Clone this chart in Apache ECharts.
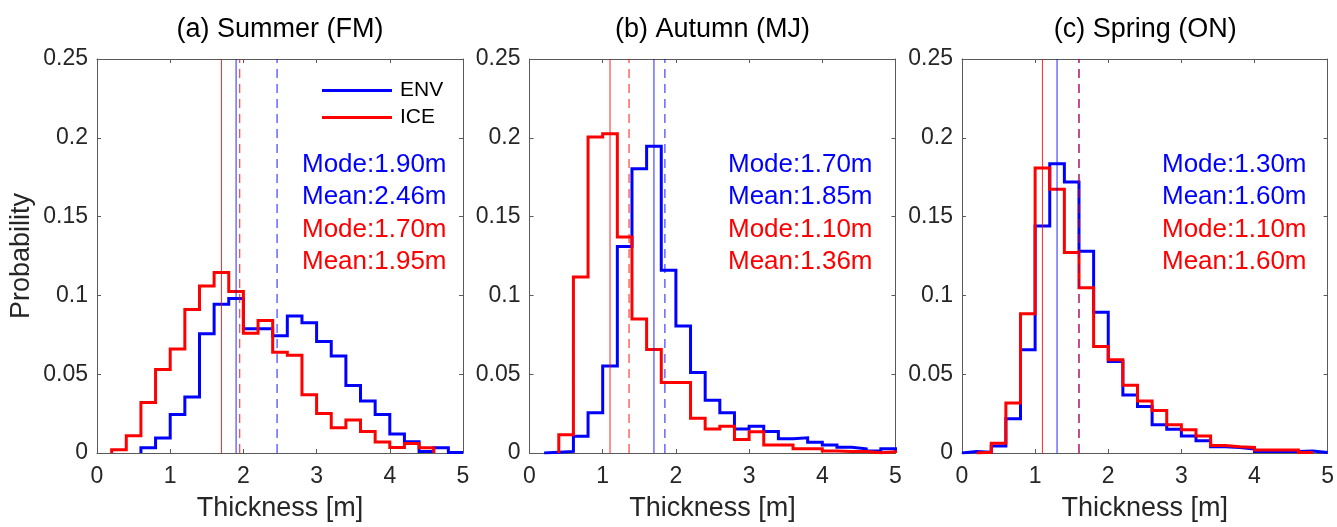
<!DOCTYPE html>
<html>
<head>
<meta charset="utf-8">
<script src="https://cdn.jsdelivr.net/npm/echarts@6/dist/echarts.min.js"></script>
<style>
html,body{margin:0;padding:0;background:#fff;}
#chart{width:1337px;height:527px;}
</style>
</head>
<body>
<div id="chart"></div>
<script>
// ---- data ----
const panelTitles = ['(a) Summer (FM)', '(b) Autumn (MJ)', '(c) Spring (ON)'];
const seriesNames = ['ENV', 'ICE'];
// left edges of the 0.2 m thickness bins
const binStarts = [0,0.2,0.4,0.6,0.8,1.0,1.2,1.4,1.6,1.8,2.0,2.2,2.4,2.6,2.8,3.0,3.2,3.4,3.6,3.8,4.0,4.2,4.4,4.6,4.8];
const binEnd = 5.0;
const xTicks = [0,1,2,3,4,5];
const yTicks = [0,0.05,0.1,0.15,0.2,0.25];

const envSummer = [null,null,null,0.0033,0.0095,0.0245,0.0355,0.0757,0.0944,0.098,0.0788,0.0788,0.0744,0.087,0.0827,0.0708,0.0615,0.0428,0.033,0.0245,0.012,0.0072,0.001,0.0033,0.0003];
const iceSummer = [null,0.002,0.011,0.032,0.053,0.066,0.091,0.106,0.1145,0.1025,0.076,0.084,0.064,0.062,0.037,0.025,0.0161,0.0209,0.0136,0.007,0.0035,0.006,0.0033,null,null];
const envAutumn = [null,0.0005,0.001,0.0106,0.0255,0.0552,0.131,0.1804,0.1947,0.116,0.0806,0.051,0.0334,0.0255,0.0152,0.017,0.0137,0.009,0.0096,0.0068,0.005,0.0037,0.0027,0.0013,0.0027];
const iceAutumn = [null,null,0.0116,0.1117,0.2005,0.2026,0.137,0.085,0.0656,0.0448,0.0448,0.022,0.0152,0.017,0.0085,0.0135,0.005,0.005,0.0027,0.0027,0.0013,0.001,0.001,0.0002,0.0008];
const envSpring = [0.001,0.0005,0.0045,0.0218,0.0655,0.144,0.1835,0.172,0.128,0.0893,0.058,0.0368,0.0295,0.018,0.015,0.0108,0.0077,0.004,0.0035,0.0025,0.001,0.001,0.001,0.0012,0.0003];
const iceSpring = [null,0.0005,0.0062,0.0318,0.0883,0.1808,0.1673,0.1272,0.1049,0.0675,0.0592,0.043,0.033,0.027,0.018,0.0148,0.0108,0.0048,0.004,0.0035,0.0019,0.0019,0.0019,0.0003,null];

const envMode = [1.90, 1.70, 1.30];
const envMean = [2.46, 1.85, 1.60];
const iceMode = [1.70, 1.10, 1.10];
const iceMean = [1.95, 1.36, 1.60];

// ---- layout / style ----
const FONT = "'Liberation Sans', Arial, Helvetica, sans-serif";
const BLUE = '#0000ff', RED = '#ff0000';
const AXIS_COLOR = '#5a5a5a', TEXT_COLOR = '#262626';
const grids = [
  {left: 97, top: 59, width: 366, height: 400},
  {left: 529.5, top: 59, width: 366, height: 400},
  {left: 962, top: 59, width: 366.5, height: 400}
];
const annotX = [302, 728, 1162];
const annotY = [165, 197, 230, 262];

function stairs(vals) {
  const pts = [];
  let first = -1, last = -1;
  vals.forEach((v, i) => { if (v !== null) { if (first < 0) first = i; last = i; } });
  pts.push([binStarts[first], 0]);
  for (let i = first; i <= last; i++) pts.push([binStarts[i], vals[i]]);
  const endEdge = last + 1 < binStarts.length ? binStarts[last + 1] : binEnd;
  pts.push([endEdge, 0]);
  return pts;
}

const panelData = [[envSummer, iceSummer], [envAutumn, iceAutumn], [envSpring, iceSpring]];
const modes = [envMode, iceMode], means = [envMean, iceMean];
const colors = [BLUE, RED];

const xAxes = [], yAxes = [], series = [], titles = [], graphics = [];
grids.forEach((g, p) => {
  const common = {
    gridIndex: p, type: 'value',
    axisLine: {show: true, onZero: false, lineStyle: {color: AXIS_COLOR, width: 1}},
    axisTick: {show: true, inside: true, length: 4, lineStyle: {color: AXIS_COLOR}},
    splitLine: {show: false}
  };
  xAxes.push(Object.assign({}, common, {
    position: 'bottom', min: xTicks[0], max: xTicks[xTicks.length - 1], interval: 1,
    axisLabel: {fontSize: 23, color: TEXT_COLOR, fontFamily: FONT, margin: 12},
    name: 'Thickness [m]', nameLocation: 'middle', nameGap: 42,
    nameTextStyle: {fontSize: 27, color: TEXT_COLOR, fontFamily: FONT}
  }));
  xAxes.push(Object.assign({}, common, {
    position: 'top', min: xTicks[0], max: xTicks[xTicks.length - 1], interval: 1,
    axisLabel: {show: false}
  }));
  yAxes.push(Object.assign({}, common, {
    position: 'left', min: yTicks[0], max: yTicks[yTicks.length - 1], interval: 0.05,
    axisLabel: {fontSize: 23, color: TEXT_COLOR, fontFamily: FONT, margin: 9},
    name: p === 0 ? 'Probability' : '', nameLocation: 'middle', nameGap: 62,
    nameTextStyle: {fontSize: 27, color: TEXT_COLOR, fontFamily: FONT}
  }));
  yAxes.push(Object.assign({}, common, {
    position: 'right', min: yTicks[0], max: yTicks[yTicks.length - 1], interval: 0.05,
    axisLabel: {show: false}
  }));

  titles.push({
    text: panelTitles[p], left: g.left + g.width / 2, top: 16, textAlign: 'center', padding: 0,
    textStyle: {fontSize: 27, fontWeight: 'normal', color: '#000', fontFamily: FONT}
  });

  panelData[p].forEach((vals, s) => {
    series.push({
      name: seriesNames[s], type: 'line', xAxisIndex: 2 * p, yAxisIndex: 2 * p,
      data: stairs(vals), step: 'end', showSymbol: false, symbol: 'none',
      lineStyle: {color: colors[s], width: 3, join: 'miter'}, itemStyle: {color: colors[s]},
      silent: true, z: 2 + s
    });
  });
  // vertical mode (solid) and mean (dashed) lines, drawn through the axes
  [0, 1].forEach(s => {
    series.push({
      name: seriesNames[s] + ' mode', type: 'line', xAxisIndex: 2 * p, yAxisIndex: 2 * p,
      data: [[modes[s][p], yTicks[0]], [modes[s][p], yTicks[yTicks.length - 1]]],
      showSymbol: false, symbol: 'none', silent: true, z: 4,
      lineStyle: {color: colors[s], width: 1, opacity: 0.85, type: 'solid'}
    });
    series.push({
      name: seriesNames[s] + ' mean', type: 'line', xAxisIndex: 2 * p, yAxisIndex: 2 * p,
      data: [[means[s][p], yTicks[0]], [means[s][p], yTicks[yTicks.length - 1]]],
      showSymbol: false, symbol: 'none', silent: true, z: 4,
      lineStyle: {color: colors[s], width: 1, opacity: 0.9, type: [9, 6]}
    });
  });

  const lines = [
    ['Mode:' + envMode[p].toFixed(2) + 'm', BLUE],
    ['Mean:' + envMean[p].toFixed(2) + 'm', BLUE],
    ['Mode:' + iceMode[p].toFixed(2) + 'm', RED],
    ['Mean:' + iceMean[p].toFixed(2) + 'm', RED]
  ];
  lines.forEach((ln, k) => {
    graphics.push({
      type: 'text', x: annotX[p], y: annotY[k], z: 10,
      style: {text: ln[0], fill: ln[1], font: '26px ' + FONT, verticalAlign: 'middle', align: 'left'}
    });
  });
});

const chart = echarts.init(document.getElementById('chart'), null, {renderer: 'canvas'});
chart.setOption({
  animation: false,
  backgroundColor: '#ffffff',
  title: titles,
  grid: grids.map(g => Object.assign({containLabel: false}, g)),
  xAxis: xAxes,
  yAxis: yAxes,
  legend: {
    show: true, orient: 'vertical', left: 322, top: 80, padding: 0,
    itemWidth: 70, itemHeight: 3, itemGap: 6, icon: 'rect', selectedMode: false,
    data: seriesNames,
    textStyle: {fontSize: 21, lineHeight: 21, color: '#000', fontFamily: FONT, padding: [0, 0, 0, 3]}
  },
  series: series,
  graphic: graphics
});
</script>
</body>
</html>
